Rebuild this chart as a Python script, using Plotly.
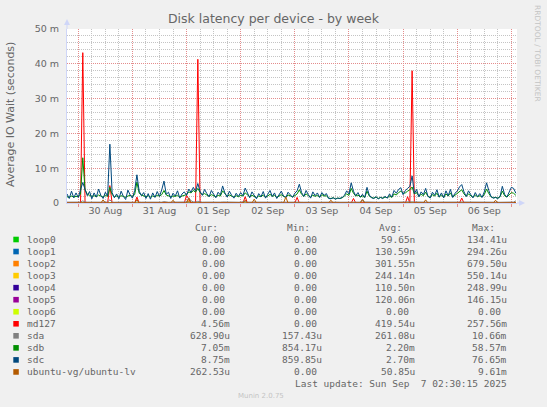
import pandas as pd
import plotly.graph_objects as go

W, H = 547, 407
# plot area in pixels (left, right, top, bottom)
PL, PR, PT, PB = 67, 517, 29, 203

start = "2025-08-29 19:00"
x_end = "2025-09-07 02:30"

names = ["loop0", "loop1", "loop2", "loop3", "loop4", "loop5", "loop6",
         "md127", "sda", "sdb", "sdc", "ubuntu-vg/ubuntu-lv"]
colors = ["#00CC00", "#0066B3", "#FF8000", "#FFCC00", "#330099", "#990099",
          "#CCFF00", "#FF0000", "#808080", "#008F00", "#00487D", "#B35A00"]

# loop devices are flat at zero except one tiny blip
loop_times = ["2025-08-29 19:00", "2025-09-01 00:00", "2025-09-01 01:00",
              "2025-09-01 02:00", "2025-09-07 02:00"]
loop0 = [0, 0, 0.13, 0, 0]
loop1 = [0, 0, 0.29, 0, 0]
loop2 = [0, 0, 0.68, 0, 0]
loop3 = [0, 0, 0.55, 0, 0]
loop4 = [0, 0, 0.25, 0, 0]
loop5 = [0, 0, 0.15, 0, 0]
loop6 = [0, 0, 0, 0, 0]

# hourly values in ms, one line per day (first line = 29 Aug 19h-23h)
md127 = [
    0, 0, 0, 0, 0,
    0, 0, 43.2, 0, 0, 0, 0, 0, 0, 0, 0, 0, 0, 0, 5.0, 0, 0, 0, 0, 0, 0, 0, 0, 0,
    0, 0, 1.7, 0, 0, 0, 0, 0, 0, 0, 0, 0, 0, 0, 0, 0, 0, 0, 0, 0, 0, 0, 0, 0,
    2.2, 1.0, 0, 0, 0, 41.3, 0, 0, 0, 0, 0, 0, 0, 0, 0, 0, 0, 0, 0, 0, 0, 0, 0, 0,
    0, 0, 1.8, 0, 0, 0, 0, 0, 0, 0, 0, 0, 0, 0, 0, 0, 0, 0, 0, 0, 0, 0, 0, 0,
    0, 1.6, 0, 0, 0, 0, 0, 0, 0, 0, 0, 0, 0, 0, 0, 0, 0, 0, 0, 0, 0, 0, 0, 0,
    0, 0, 1.3, 0, 0, 0, 0, 0, 0, 0, 0, 0, 0, 0, 0, 0, 0, 0, 0, 0, 0, 0, 0, 0,
    0, 0, 1.8, 0, 38.0, 0, 0, 0, 0, 0, 0, 0, 0, 0, 0, 0, 0, 0, 0, 0, 0, 0, 0, 0,
    0, 0, 1.4, 0, 0, 0, 0, 0, 0, 0, 0, 0, 0, 0, 0, 0, 0, 0, 0, 0, 0, 0, 0, 0,
    0, 0, 0,
]
sda = [
    0.25, 0.22, 0.28, 0.24, 0.26,
    0.23, 0.27, 0.6, 0.3, 0.25, 0.22, 0.26, 0.24, 0.28, 0.23, 0.25, 0.27, 0.24, 0.26, 0.9, 0.25, 0.22, 0.26, 0.24, 0.27, 0.23, 0.25, 0.28, 0.24,
    0.26, 0.23, 0.7, 0.28, 0.25, 0.24, 0.27, 0.23, 0.25, 0.26, 0.22, 0.27, 0.24, 0.25, 0.4, 0.26, 0.23, 0.25, 0.28, 0.24, 0.26, 0.22, 0.25, 0.27,
    0.3, 1.5, 0.6, 0.35, 0.28, 0.5, 0.27, 0.24, 0.26, 0.23, 0.25, 0.27, 0.24, 0.26, 0.22, 0.25, 0.3, 0.26, 0.23, 0.25, 0.27, 0.24, 0.26, 0.23,
    0.25, 0.28, 0.5, 0.26, 0.24, 0.27, 0.23, 0.25, 0.26, 0.22, 0.27, 0.24, 0.25, 0.28, 0.23, 0.26, 0.24, 0.25, 0.27, 0.23, 0.26, 0.24, 0.25, 0.22,
    0.26, 0.3, 0.35, 0.25, 0.23, 0.27, 0.24, 0.26, 0.22, 0.25, 0.27, 0.23, 0.26, 0.24, 0.22, 0.23, 0.25, 0.22, 0.24, 0.26, 0.23, 0.25, 0.27, 0.24,
    0.26, 0.3, 0.28, 0.24, 0.26, 0.25, 1.1, 0.27, 0.3, 0.24, 0.22, 0.23, 0.25, 0.22, 0.24, 0.23, 0.25, 0.22, 0.26, 0.24, 0.27, 0.25, 0.28, 0.3,
    0.28, 0.3, 0.35, 0.32, 0.5, 0.26, 0.28, 0.24, 0.26, 0.23, 0.27, 0.24, 0.22, 0.26, 0.24, 0.27, 0.23, 0.25, 0.22, 0.26, 0.24, 0.27, 0.23, 0.25,
    0.27, 0.29, 0.3, 0.26, 0.23, 0.25, 0.27, 0.22, 0.24, 0.26, 0.23, 0.25, 0.27, 0.32, 0.26, 0.23, 0.22, 0.24, 0.21, 0.23, 0.28, 0.25, 0.23, 0.26,
    0.3, 0.28, 0.63,
]
sdb = [
    1.8, 1.6, 2.0, 1.7, 1.9,
    1.8, 2.6, 13.0, 3.8, 2.5, 2.2, 1.9, 2.1, 1.8, 2.3, 2.0, 1.7, 2.2, 1.9, 4.5, 2.4, 1.8, 2.0, 1.7, 2.1, 1.9, 1.6, 2.0, 2.2,
    1.9, 2.4, 6.0, 2.8, 2.3, 2.0, 1.8, 2.1, 1.7, 2.0, 1.8, 2.2, 2.0, 2.4, 3.6, 2.3, 2.1, 1.8, 2.0, 1.9, 2.2, 1.7, 2.0, 2.3,
    2.4, 3.2, 2.9, 3.6, 3.1, 4.2, 3.0, 2.4, 2.7, 2.3, 1.9, 2.4, 2.1, 1.8, 2.2, 2.0, 3.5, 2.6, 1.9, 2.3, 2.0, 1.7, 2.1, 1.8,
    2.2, 2.0, 2.9, 2.3, 1.8, 2.2, 1.9, 1.6, 2.0, 1.8, 2.3, 1.7, 2.0, 2.5, 1.9, 2.2, 1.6, 2.0, 2.4, 1.9, 1.7, 2.3, 2.0, 1.8,
    2.1, 2.6, 3.8, 2.5, 1.9, 2.6, 2.1, 1.7, 2.3, 1.9, 2.2, 1.7, 2.4, 2.0, 2.1, 1.4, 1.3, 1.5, 1.2, 1.4, 1.3, 1.5, 2.0, 2.6,
    2.2, 4.2, 2.8, 2.0, 2.3, 1.7, 2.0, 1.6, 3.4, 2.0, 1.6, 1.4, 1.7, 1.3, 1.6, 1.4, 1.7, 1.5, 2.0, 1.6, 2.6, 2.3, 3.0, 3.4,
    2.8, 2.9, 3.4, 3.8, 4.6, 2.6, 3.0, 1.9, 2.5, 2.1, 3.1, 1.9, 1.6, 2.4, 2.0, 2.8, 1.7, 2.3, 1.6, 2.6, 2.0, 2.9, 1.7, 2.2,
    2.6, 3.3, 3.8, 2.6, 1.9, 2.6, 2.1, 1.6, 2.3, 1.8, 2.1, 1.7, 2.4, 4.0, 2.7, 1.8, 1.5, 1.6, 1.4, 1.8, 3.4, 2.1, 1.7, 2.4,
    3.0, 2.8, 2.2,
]
sdc = [
    2.6, 1.3, 3.4, 1.5, 2.9,
    1.6, 3.8, 5.9, 3.9, 2.1, 3.3, 1.2, 2.9, 1.7, 4.0, 2.2, 1.3, 3.1, 2.0, 16.9, 3.0, 1.5, 2.6, 1.2, 3.4, 1.9, 1.0, 3.7, 2.3,
    1.4, 3.6, 8.1, 3.4, 2.1, 3.0, 1.3, 2.7, 1.1, 2.9, 1.6, 3.3, 1.9, 3.8, 6.3, 2.5, 3.1, 1.3, 2.8, 2.0, 3.5, 1.4, 2.6, 3.2,
    2.2, 4.0, 3.1, 4.5, 3.4, 5.6, 3.3, 2.2, 3.9, 2.7, 1.8, 3.6, 2.5, 1.5, 3.1, 2.3, 4.9, 2.9, 1.7, 3.4, 2.2, 1.4, 2.8, 1.9,
    3.0, 2.1, 4.3, 2.6, 1.5, 3.2, 2.0, 1.2, 2.7, 1.8, 3.3, 1.4, 2.5, 3.6, 1.9, 2.9, 1.3, 2.4, 3.4, 2.0, 1.5, 3.1, 2.3, 1.6,
    2.8, 3.5, 5.4, 3.0, 1.9, 3.6, 2.4, 1.4, 3.2, 2.1, 2.9, 1.6, 3.0, 2.2, 2.7, 1.3, 1.2, 1.5, 1.1, 1.4, 1.3, 1.6, 2.2, 3.5,
    2.6, 5.8, 3.4, 2.1, 3.0, 1.7, 2.5, 1.6, 4.5, 2.3, 1.5, 1.3, 1.8, 1.2, 1.6, 1.3, 1.9, 1.4, 2.6, 1.7, 3.6, 2.8, 3.9, 4.4,
    2.4, 3.6, 4.2, 4.8, 7.8, 2.7, 3.9, 1.8, 3.2, 2.4, 4.2, 2.0, 1.4, 3.1, 2.2, 3.8, 1.7, 2.9, 1.5, 3.5, 2.1, 3.9, 1.6, 2.8,
    3.4, 4.6, 5.3, 3.2, 1.9, 3.5, 2.4, 1.5, 3.0, 1.8, 2.7, 1.6, 3.2, 5.8, 3.6, 1.8, 1.4, 1.6, 1.3, 1.9, 4.8, 2.5, 1.7, 3.3,
    4.5, 4.2, 2.8,
]
ubuntu_lv = [
    0, 0, 0, 0, 0,
    0, 0, 0, 0, 0, 0, 0, 0, 0, 0, 0, 0.9, 0, 0, 0, 0, 0, 0, 0, 0, 0, 0, 0, 0,
    0, 0, 1.0, 0, 0, 0, 0, 0, 0, 0, 0, 0, 0, 0, 0, 0, 0, 0, 0.8, 0, 0, 0, 0, 0,
    0, 1.4, 0, 0, 0, 0, 0, 0, 0, 0, 0, 0, 0, 0, 0, 0, 0, 0, 0, 0, 0, 0, 0, 0,
    0, 0, 0.8, 0, 0, 0, 1.1, 0, 0, 0, 0, 0, 0, 0, 0, 0, 0, 0, 0, 0, 1.7, 0, 0, 0,
    0, 0, 0, 0, 0, 0, 0, 0, 0, 0, 0, 0, 0, 0, 0, 0, 0.8, 0, 0, 0, 0, 0, 0, 0,
    0, 0, 0, 0, 0, 0, 0.9, 0, 0, 0, 0, 0, 0, 0, 0, 0, 0, 0, 0, 0, 0, 0, 0, 0,
    0, 0, 0, 0, 0, 0, 0, 0, 0, 0, 0.9, 0, 0, 0, 0, 0, 0, 0, 0, 0, 0, 0, 0, 0,
    0, 0, 0, 0, 0, 0, 0, 0, 0, 0, 0, 0, 0, 0, 0, 0, 0, 0.8, 0, 0, 0, 0, 0, 0,
    0, 0, 0.26,
]

# legend table text
cur_vals = ["0.00", "0.00", "0.00", "0.00", "0.00", "0.00", "0.00",
            "4.56m", "628.90u", "7.05m", "8.75m", "262.53u"]
min_vals = ["0.00", "0.00", "0.00", "0.00", "0.00", "0.00", "0.00",
            "0.00", "157.43u", "854.17u", "859.85u", "0.00"]
avg_vals = ["59.65n", "130.59n", "301.55n", "244.14n", "110.50n", "120.06n", "0.00",
            "419.54u", "261.08u", "2.20m", "2.70m", "50.85u"]
max_vals = ["134.41u", "294.26u", "679.50u", "550.14u", "248.99u", "146.15u", "0.00",
            "257.56m", "10.66m", "58.57m", "76.65m", "9.61m"]

y_ticks = [0, 10, 20, 30, 40, 50]
y_labels = ["0", "10 m", "20 m", "30 m", "40 m", "50 m"]
day_ticks = ["2025-08-30", "2025-08-31", "2025-09-01", "2025-09-02", "2025-09-03",
             "2025-09-04", "2025-09-05", "2025-09-06", "2025-09-07"]
label_ticks = ["2025-08-30 12:00", "2025-08-31 12:00", "2025-09-01 12:00", "2025-09-02 12:00",
               "2025-09-03 12:00", "2025-09-04 12:00", "2025-09-05 12:00", "2025-09-06 12:00"]
label_text = ["30 Aug", "31 Aug", "01 Sep", "02 Sep", "03 Sep", "04 Sep", "05 Sep", "06 Sep"]

for s in (md127, sda, sdb, sdc, ubuntu_lv):
    assert len(s) == len(sdc)
times = pd.date_range(start, periods=len(sdc), freq="h")

FONT = "DejaVu Sans"
MONO = "DejaVu Sans Mono"
TXT = "#666666"
AXIS = "#CFD6F8"
MGRID = "#E48C8C"
GRID = "#C4C4C4"


def px_x(px):
    return (px - PL) / (PR - PL)


def px_y(py):
    return (PB - py) / (PB - PT)


series = [(loop_times, loop0), (loop_times, loop1), (loop_times, loop2), (loop_times, loop3),
          (loop_times, loop4), (loop_times, loop5), (loop_times, loop6),
          (times, md127), (times, sda), (times, sdb), (times, sdc), (times, ubuntu_lv)]

fig = go.Figure()
for name, color, (xs, ys) in zip(names, colors, series):
    # the last series (drawn on top) sits on the label axis so that axis gets rendered
    xaxis = "x2" if name == names[-1] else "x"
    fig.add_trace(go.Scatter(x=xs, y=ys, name=name, mode="lines", xaxis=xaxis,
                             line=dict(color=color, width=1)))

fig.update_layout(
    width=W, height=H,
    margin=dict(l=PL, r=W - PR, t=PT, b=H - PB, pad=0),
    paper_bgcolor="#F0F0F0", plot_bgcolor="#FFFFFF",
    showlegend=False,
    title=dict(text="Disk latency per device - by week", x=0.5, xref="container",
               xanchor="center", y=1 - 19 / H, yanchor="middle",
               font=dict(family=FONT, size=12.5, color=TXT)),
    xaxis=dict(type="date", range=[start, x_end], tickvals=day_ticks,
               showticklabels=False, showgrid=True, gridcolor=MGRID,
               griddash="1px,1px", gridwidth=1, ticks="outside", ticklen=3,
               tickcolor=MGRID, showline=True, linecolor=AXIS, zeroline=False,
               minor=dict(dtick=6 * 3600 * 1000, tick0="2025-08-30", showgrid=True,
                          gridcolor=GRID, griddash="1px,1px", ticks="")),
    xaxis2=dict(type="date", range=[start, x_end], overlaying="x", anchor="y", side="bottom",
                tickvals=label_ticks, ticktext=label_text, showgrid=False, showline=False,
                ticks="", zeroline=False,
                tickfont=dict(family=FONT, size=9.5, color=TXT)),
    yaxis=dict(range=[0, 50], tickvals=y_ticks, ticktext=y_labels, showgrid=True,
               gridcolor=MGRID, griddash="1px,1px", zeroline=False,
               showline=True, linecolor=AXIS, ticks="", ticklabelstandoff=5,
               tickfont=dict(family=FONT, size=9.5, color=TXT),
               minor=dict(dtick=2, showgrid=True, gridcolor=GRID, griddash="1px,1px")),
)

ann = []
shapes = []

# axis title and side credits
ann.append(dict(text="Average IO Wait (seconds)", x=px_x(11), y=px_y(115), textangle=-90,
                font=dict(family=FONT, size=11, color=TXT)))
ann.append(dict(text="RRDTOOL / TOBI OETIKER", x=px_x(538), y=px_y(53), textangle=90,
                font=dict(family=FONT, size=7.5, color="#C4C4C4")))
ann.append(dict(text="Munin 2.0.75", x=px_x(261), y=px_y(396),
                font=dict(family=FONT, size=7, color="#C4C4C4")))

# axis arrows
shapes.append(dict(type="line", x0=px_x(PL), x1=px_x(PL), y0=px_y(PT), y1=px_y(23),
                   line=dict(color=AXIS, width=1)))
shapes.append(dict(type="path", line=dict(width=0), fillcolor=AXIS,
                   path=f"M {px_x(64)},{px_y(25)} L {px_x(70)},{px_y(25)} L {px_x(67)},{px_y(19)} Z"))
shapes.append(dict(type="line", x0=px_x(PR), x1=px_x(521), y0=px_y(PB), y1=px_y(PB),
                   line=dict(color=AXIS, width=1)))
shapes.append(dict(type="path", line=dict(width=0), fillcolor=AXIS,
                   path=f"M {px_x(519)},{px_y(200)} L {px_x(519)},{px_y(206)} L {px_x(525)},{px_y(203)} Z"))

# legend table
col_right = [232.3, 324.3, 416.7, 509]
char_w = 5.72
for hdr, right in zip(["Cur:", "Min:", "Avg:", "Max:"], [220, 311.7, 404.3, 496.7]):
    ann.append(dict(text=hdr, x=px_x(right), y=px_y(227.3), xanchor="right",
                    font=dict(family=MONO, size=9.5, color=TXT)))
for i, name in enumerate(names):
    yc = 239.5 + 12.04 * i
    shapes.append(dict(type="rect", x0=px_x(13.3), x1=px_x(18.8), y0=px_y(yc - 2.8),
                       y1=px_y(yc + 2.8), fillcolor=colors[i], line=dict(width=0)))
    ann.append(dict(text=name, x=px_x(25), y=px_y(yc), xanchor="left",
                    font=dict(family=MONO, size=9.5, color=TXT)))
    for vals, right in zip([cur_vals, min_vals, avg_vals, max_vals], col_right):
        v = vals[i]
        r = right if v[-1].isalpha() else right - char_w
        ann.append(dict(text=v, x=px_x(r), y=px_y(yc), xanchor="right",
                        font=dict(family=MONO, size=9.5, color=TXT)))
ann.append(dict(text="Last update: Sun Sep \u00a07 02:30:15 2025", x=px_x(509), y=px_y(383.5),
                xanchor="right", font=dict(family=MONO, size=9.5, color=TXT)))

for a in ann:
    a.setdefault("xanchor", "center")
    a.update(xref="paper", yref="paper", yanchor="middle", showarrow=False)
for s in shapes:
    s.update(xref="paper", yref="paper")

fig.update_layout(annotations=ann, shapes=shapes)
# the page's default body margin would push the fixed-size figure off its window
fig.write_html("out.html", config={"displayModeBar": False},
               post_script="document.body.style.margin='0';")
